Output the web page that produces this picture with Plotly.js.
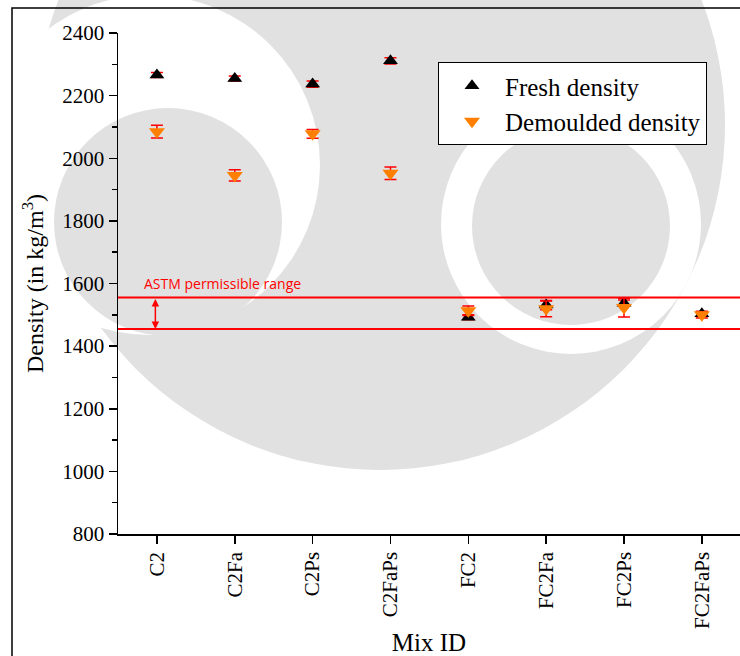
<!DOCTYPE html>
<html>
<head>
<meta charset="utf-8">
<script src="https://cdn.plot.ly/plotly-3.0.1.min.js"></script>
<style>html,body{margin:0;padding:0;background:#fff;}#chart{width:740px;height:656px;}</style>
</head>
<body>
<div id="chart"></div>
<script>
const categories = ['C2','C2Fa','C2Ps','C2FaPs','FC2','FC2Fa','FC2Ps','FC2FaPs'];
const freshDensity = [2266, 2255, 2237, 2311, 1492, 1531, 1537, 1503];
const freshError = [8, 8, 10, 10, 8, 15, 10, 8];
const demouldedDensity = [2085, 1945, 2078, 1952, 1513, 1519, 1523, 1500];
const demouldedError = [20, 18, 14, 20, 15, 25, 30, 10];
const astmRange = [1455, 1555];
const yTicks = [800, 1000, 1200, 1400, 1600, 1800, 2000, 2200, 2400];

const xIdx = categories.map((c, i) => i);
const serif = '"Liberation Serif", "Times New Roman", serif';

// pixel -> paper helpers for the background watermark decoration
const PL = 118, PW = 622, PT = 33, PH = 501;
const px2x = p => (p - PL) / PW;
const py2y = p => (PT + PH - p) / PH;
function disc(cx, cy, r, color) {
  return {type: 'circle', xref: 'paper', yref: 'paper', layer: 'below',
    x0: px2x(cx - r), x1: px2x(cx + r), y0: py2y(cy + r), y1: py2y(cy - r),
    fillcolor: color, line: {width: 0}};
}
const WM = '#e1e1e1';
const watermark = [
  disc(380, 125, 345, WM),
  disc(150, 165, 170, '#ffffff'),
  disc(168, 222, 114, WM),
  disc(571, 224, 130, '#ffffff'),
  disc(571, 226, 99, WM)
];

const traces = [
  {
    x: xIdx, y: freshDensity, type: 'scatter', mode: 'markers', name: 'Fresh density',
    marker: {symbol: 'triangle-up', size: 13, color: '#000000'},
    error_y: {type: 'data', array: freshError, visible: true, color: '#ff0000', thickness: 1.5, width: 6}
  },
  {
    x: xIdx, y: demouldedDensity, type: 'scatter', mode: 'markers', name: 'Demoulded density',
    marker: {symbol: 'triangle-down', size: 14, color: '#ff8000'},
    error_y: {type: 'data', array: demouldedError, visible: true, color: '#ff0000', thickness: 1.5, width: 6}
  }
];

const layout = {
  width: 740, height: 656,
  margin: {l: PL, r: 0, t: PT, b: 122},
  paper_bgcolor: '#ffffff', plot_bgcolor: 'rgba(0,0,0,0)',
  showlegend: true,
  legend: {
    x: px2x(438), y: py2y(62), xanchor: 'left', yanchor: 'top',
    bgcolor: '#ffffff', bordercolor: '#000000', borderwidth: 1,
    font: {family: serif, size: 25, color: '#000'},
    itemwidth: 56, tracegroupgap: 0
  },
  xaxis: {
    range: [-0.5, 7.49],
    tickmode: 'array', tickvals: xIdx, ticktext: categories,
    tickangle: -90,
    ticks: 'outside', ticklen: 8, tickwidth: 1.5, tickcolor: '#000',
    showline: true, linecolor: '#000', linewidth: 1.5,
    showgrid: false, zeroline: false,
    tickfont: {family: serif, size: 21, color: '#000'},
    title: {text: 'Mix ID', font: {family: serif, size: 25, color: '#000'}, standoff: 6}
  },
  yaxis: {
    range: [800, 2400],
    tickmode: 'array', tickvals: yTicks,
    ticks: 'outside', ticklen: 8, tickwidth: 1.5, tickcolor: '#000',
    minor: {dtick: 100, ticks: 'outside', ticklen: 5, tickwidth: 1.5, tickcolor: '#000', showgrid: false},
    showline: true, linecolor: '#000', linewidth: 1.5,
    showgrid: false, zeroline: false,
    tickfont: {family: serif, size: 21, color: '#000'},
    title: {text: 'Density (in kg/m<sup>3</sup>)', font: {family: serif, size: 24, color: '#000'}, standoff: 12}
  },
  shapes: watermark.concat([
    {type: 'line', xref: 'paper', yref: 'y', x0: 0, x1: 1, y0: astmRange[1], y1: astmRange[1], line: {color: '#ff0000', width: 2}},
    {type: 'line', xref: 'paper', yref: 'y', x0: 0, x1: 1, y0: astmRange[0], y1: astmRange[0], line: {color: '#ff0000', width: 2}},
    {type: 'rect', xref: 'paper', yref: 'paper', x0: px2x(12), x1: 1.2, y0: -0.5, y1: py2y(8), line: {color: '#000', width: 1.5}, fillcolor: 'rgba(0,0,0,0)'}
  ]),
  annotations: [
    {x: -0.02, y: astmRange[0], ax: -0.02, ay: astmRange[1], xref: 'x', yref: 'y', axref: 'x', ayref: 'y',
     text: '', showarrow: true, arrowhead: 2, arrowside: 'end+start', arrowsize: 1, arrowwidth: 1.5, arrowcolor: '#ff0000'},
    {x: -0.19, y: 1600, xref: 'x', yref: 'y', xanchor: 'left', yanchor: 'middle', showarrow: false,
     text: 'ASTM permissible range', font: {family: '"Open Sans", "Liberation Sans", sans-serif', size: 14, color: '#ff0000'}}
  ]
};

Plotly.newPlot('chart', traces, layout, {displayModeBar: false, staticPlot: true});
</script>
</body>
</html>
